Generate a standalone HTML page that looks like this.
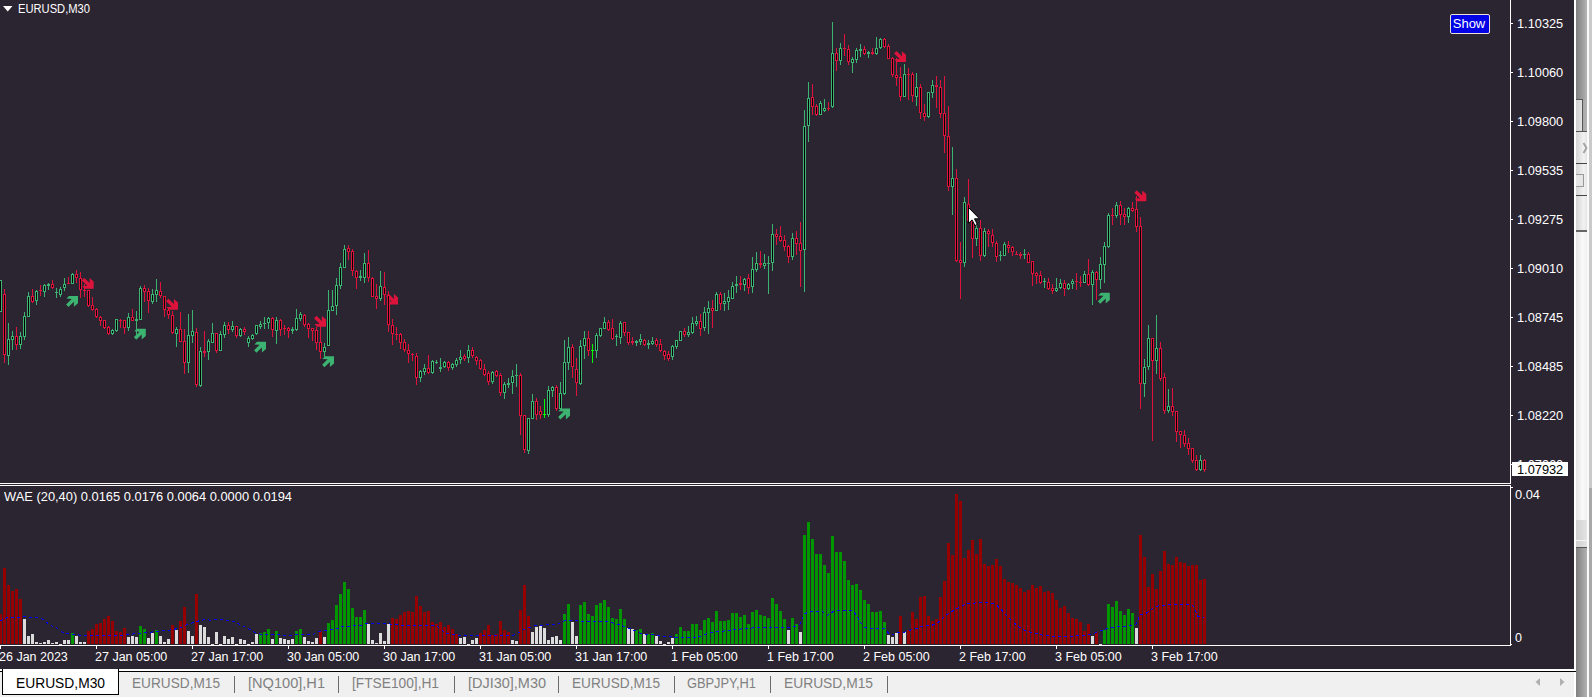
<!DOCTYPE html>
<html><head><meta charset="utf-8"><title>EURUSD,M30</title>
<style>
html,body{margin:0;padding:0;background:#f0f0f0;overflow:hidden}
body{width:1592px;height:697px;position:relative;font-family:"Liberation Sans",sans-serif}
#chart{position:absolute;left:0;top:0;width:1574px;height:669px;background:#2b2431}
svg{position:absolute;left:0;top:0}
.t{position:absolute;white-space:nowrap;color:#fff;font-size:12.5px;line-height:14px}
.tab{position:absolute;white-space:nowrap;color:#808080;font-size:14.5px;line-height:18px;top:675px}
</style></head><body>
<div id="chart"></div>

<svg width="1592" height="697" viewBox="0 0 1592 697" shape-rendering="crispEdges">
<g fill="#fff">
<rect x="0" y="483" width="1511" height="1"/>
<rect x="0" y="485" width="1511" height="1"/>
<rect x="1510" y="0" width="1" height="484"/>
<rect x="1510" y="485" width="1" height="161"/>
<rect x="0" y="645" width="1511" height="1"/>
<rect x="1511" y="23" width="2" height="1"/>
<rect x="1511" y="72" width="2" height="1"/>
<rect x="1511" y="121" width="2" height="1"/>
<rect x="1511" y="170" width="2" height="1"/>
<rect x="1511" y="219" width="2" height="1"/>
<rect x="1511" y="268" width="2" height="1"/>
<rect x="1511" y="317" width="2" height="1"/>
<rect x="1511" y="366" width="2" height="1"/>
<rect x="1511" y="415" width="2" height="1"/>
<rect x="1511" y="464" width="2" height="1"/>
<rect x="1511" y="487" width="2" height="1"/>
<rect x="1511" y="644" width="1" height="1"/>
<rect x="0" y="646" width="1" height="3"/>
<rect x="96" y="646" width="1" height="3"/>
<rect x="192" y="646" width="1" height="3"/>
<rect x="288" y="646" width="1" height="3"/>
<rect x="384" y="646" width="1" height="3"/>
<rect x="480" y="646" width="1" height="3"/>
<rect x="576" y="646" width="1" height="3"/>
<rect x="672" y="646" width="1" height="3"/>
<rect x="768" y="646" width="1" height="3"/>
<rect x="864" y="646" width="1" height="3"/>
<rect x="960" y="646" width="1" height="3"/>
<rect x="1056" y="646" width="1" height="3"/>
<rect x="1152" y="646" width="1" height="3"/>
</g>
<path shape-rendering="auto" fill="#3cb371" transform="translate(78 296)" d="M0 0L-9 0L-11.6 2.6L-6.3 3L-11.9 8.4L-9.6 11L-4.1 5.7L-4.1 10.8L0 7.2Z"/>
<path shape-rendering="auto" fill="#dc143c" transform="translate(93.7 288.8) scale(1 -1)" d="M0 0L-9 0L-11.6 2.6L-6.3 3L-11.9 8.4L-9.6 11L-4.1 5.7L-4.1 10.8L0 7.2Z"/>
<path shape-rendering="auto" fill="#3cb371" transform="translate(145.8 328.7)" d="M0 0L-9 0L-11.6 2.6L-6.3 3L-11.9 8.4L-9.6 11L-4.1 5.7L-4.1 10.8L0 7.2Z"/>
<path shape-rendering="auto" fill="#dc143c" transform="translate(178 309.7) scale(1 -1)" d="M0 0L-9 0L-11.6 2.6L-6.3 3L-11.9 8.4L-9.6 11L-4.1 5.7L-4.1 10.8L0 7.2Z"/>
<path shape-rendering="auto" fill="#3cb371" transform="translate(266 341.8)" d="M0 0L-9 0L-11.6 2.6L-6.3 3L-11.9 8.4L-9.6 11L-4.1 5.7L-4.1 10.8L0 7.2Z"/>
<path shape-rendering="auto" fill="#dc143c" transform="translate(326 326.8) scale(1 -1)" d="M0 0L-9 0L-11.6 2.6L-6.3 3L-11.9 8.4L-9.6 11L-4.1 5.7L-4.1 10.8L0 7.2Z"/>
<path shape-rendering="auto" fill="#3cb371" transform="translate(334 356.3)" d="M0 0L-9 0L-11.6 2.6L-6.3 3L-11.9 8.4L-9.6 11L-4.1 5.7L-4.1 10.8L0 7.2Z"/>
<path shape-rendering="auto" fill="#dc143c" transform="translate(398 304.6) scale(1 -1)" d="M0 0L-9 0L-11.6 2.6L-6.3 3L-11.9 8.4L-9.6 11L-4.1 5.7L-4.1 10.8L0 7.2Z"/>
<path shape-rendering="auto" fill="#3cb371" transform="translate(570 408.6)" d="M0 0L-9 0L-11.6 2.6L-6.3 3L-11.9 8.4L-9.6 11L-4.1 5.7L-4.1 10.8L0 7.2Z"/>
<path shape-rendering="auto" fill="#dc143c" transform="translate(906 62) scale(1 -1)" d="M0 0L-9 0L-11.6 2.6L-6.3 3L-11.9 8.4L-9.6 11L-4.1 5.7L-4.1 10.8L0 7.2Z"/>
<path shape-rendering="auto" fill="#3cb371" transform="translate(1109.8 292.8)" d="M0 0L-9 0L-11.6 2.6L-6.3 3L-11.9 8.4L-9.6 11L-4.1 5.7L-4.1 10.8L0 7.2Z"/>
<path shape-rendering="auto" fill="#dc143c" transform="translate(1146.3 201.2) scale(1 -1)" d="M0 0L-9 0L-11.6 2.6L-6.3 3L-11.9 8.4L-9.6 11L-4.1 5.7L-4.1 10.8L0 7.2Z"/>
<path fill="#3cb371" d="M0 280h1v32h-1zM-1 280h3v32h-3zM8 323h1v42h-1zM7 339h3v17h-3zM12 331h1v19h-1zM11 336h3v4h-3zM20 332h1v17h-1zM19 336h3v9h-3zM24 312h1v28h-1zM23 316h3v21h-3zM28 292h1v25h-1zM27 296h3v21h-3zM36 290h1v15h-1zM35 291h3v10h-3zM44 284h1v13h-1zM43 285h3v7h-3zM48 283h1v7h-1zM47 284h3v2h-3zM56 288h1v10h-1zM55 292h3v1h-3zM60 287h1v10h-1zM59 289h3v6h-3zM64 278h1v13h-1zM63 284h3v4h-3zM72 273h1v11h-1zM71 274h3v10h-3zM112 329h1v6h-1zM111 330h3v4h-3zM116 319h1v13h-1zM115 319h3v12h-3zM128 313h1v18h-1zM127 317h3v11h-3zM136 311h1v24h-1zM135 319h3v2h-3zM140 286h1v34h-1zM139 288h3v32h-3zM152 289h1v15h-1zM151 294h3v8h-3zM156 279h1v23h-1zM155 290h3v5h-3zM176 327h1v20h-1zM175 329h3v5h-3zM188 314h1v59h-1zM187 335h3v28h-3zM192 310h1v33h-1zM191 331h3v5h-3zM200 347h1v40h-1zM199 351h3v35h-3zM208 339h1v21h-1zM207 341h3v11h-3zM212 323h1v20h-1zM211 333h3v10h-3zM220 331h1v20h-1zM219 334h3v17h-3zM224 322h1v16h-1zM223 325h3v10h-3zM232 321h1v11h-1zM231 326h3v4h-3zM240 328h1v9h-1zM239 329h3v7h-3zM248 336h1v11h-1zM247 338h3v5h-3zM252 334h1v6h-1zM251 335h3v4h-3zM256 325h1v10h-1zM255 325h3v9h-3zM260 321h1v8h-1zM259 324h3v3h-3zM264 317h1v12h-1zM263 323h3v1h-3zM268 317h1v12h-1zM267 318h3v5h-3zM276 317h1v27h-1zM275 320h3v11h-3zM292 327h1v7h-1zM291 329h3v2h-3zM296 309h1v22h-1zM295 318h3v12h-3zM300 312h1v9h-1zM299 314h3v5h-3zM324 343h1v14h-1zM323 347h3v5h-3zM328 290h1v56h-1zM327 310h3v36h-3zM332 290h1v21h-1zM331 306h3v5h-3zM336 278h1v37h-1zM335 285h3v21h-3zM340 263h1v26h-1zM339 267h3v19h-3zM344 245h1v23h-1zM343 249h3v19h-3zM360 270h1v11h-1zM359 276h3v2h-3zM364 253h1v30h-1zM363 263h3v15h-3zM380 271h1v30h-1zM379 286h3v13h-3zM420 370h1v12h-1zM419 371h3v7h-3zM424 364h1v11h-1zM423 368h3v4h-3zM432 360h1v14h-1zM431 361h3v12h-3zM436 360h1v4h-1zM435 362h3v1h-3zM440 358h1v14h-1zM439 367h3v2h-3zM444 361h1v7h-1zM443 362h3v5h-3zM452 363h1v7h-1zM451 364h3v4h-3zM456 358h1v9h-1zM455 360h3v5h-3zM460 350h1v14h-1zM459 357h3v3h-3zM468 345h1v18h-1zM467 350h3v8h-3zM492 371h1v13h-1zM491 372h3v10h-3zM504 382h1v17h-1zM503 384h3v9h-3zM508 378h1v10h-1zM507 383h3v2h-3zM512 370h1v24h-1zM511 376h3v7h-3zM516 364h1v23h-1zM515 375h3v1h-3zM528 418h1v36h-1zM527 418h3v33h-3zM532 394h1v25h-1zM531 401h3v18h-3zM548 386h1v31h-1zM547 390h3v25h-3zM552 386h1v11h-1zM551 387h3v4h-3zM560 382h1v27h-1zM559 393h3v16h-3zM564 340h1v55h-1zM563 362h3v32h-3zM568 337h1v33h-1zM567 347h3v16h-3zM580 340h1v45h-1zM579 346h3v38h-3zM584 331h1v28h-1zM583 338h3v8h-3zM596 333h1v25h-1zM595 335h3v16h-3zM600 328h1v9h-1zM599 328h3v8h-3zM604 317h1v12h-1zM603 322h3v7h-3zM616 334h1v12h-1zM615 336h3v1h-3zM620 321h1v23h-1zM619 323h3v15h-3zM636 340h1v6h-1zM635 341h3v2h-3zM640 334h1v11h-1zM639 339h3v3h-3zM648 340h1v9h-1zM647 343h3v2h-3zM652 337h1v8h-1zM651 341h3v3h-3zM672 345h1v15h-1zM671 346h3v11h-3zM676 340h1v9h-1zM675 340h3v7h-3zM680 331h1v10h-1zM679 331h3v10h-3zM688 326h1v11h-1zM687 332h3v3h-3zM692 317h1v17h-1zM691 323h3v10h-3zM696 316h1v10h-1zM695 321h3v3h-3zM704 307h1v24h-1zM703 312h3v16h-3zM708 301h1v33h-1zM707 308h3v5h-3zM716 292h1v19h-1zM715 294h3v17h-3zM724 293h1v18h-1zM723 301h3v3h-3zM728 290h1v20h-1zM727 297h3v5h-3zM732 282h1v17h-1zM731 286h3v13h-3zM736 276h1v17h-1zM735 284h3v2h-3zM744 278h1v13h-1zM743 279h3v6h-3zM752 257h1v36h-1zM751 269h3v18h-3zM756 252h1v20h-1zM755 263h3v7h-3zM764 254h1v15h-1zM763 263h3v3h-3zM768 256h1v38h-1zM767 263h3v1h-3zM772 224h1v47h-1zM771 234h3v29h-3zM792 233h1v27h-1zM791 238h3v19h-3zM804 110h1v182h-1zM803 126h3v124h-3zM808 82h1v60h-1zM807 98h3v28h-3zM820 101h1v14h-1zM819 103h3v12h-3zM824 99h1v13h-1zM823 108h3v3h-3zM832 22h1v86h-1zM831 53h3v54h-3zM840 43h1v22h-1zM839 48h3v13h-3zM852 57h1v16h-1zM851 59h3v4h-3zM856 48h1v15h-1zM855 50h3v10h-3zM860 44h1v13h-1zM859 49h3v2h-3zM868 51h1v7h-1zM867 52h3v2h-3zM876 37h1v18h-1zM875 48h3v6h-3zM880 38h1v11h-1zM879 39h3v9h-3zM904 64h1v33h-1zM903 74h3v23h-3zM916 73h1v33h-1zM915 87h3v10h-3zM928 92h1v26h-1zM927 92h3v25h-3zM932 80h1v18h-1zM931 85h3v8h-3zM952 147h1v68h-1zM951 178h3v9h-3zM964 197h1v70h-1zM963 202h3v61h-3zM976 225h1v21h-1zM975 228h3v11h-3zM984 228h1v29h-1zM983 231h3v25h-3zM1000 251h1v10h-1zM999 255h3v1h-3zM1004 242h1v14h-1zM1003 244h3v12h-3zM1024 249h1v10h-1zM1023 254h3v1h-3zM1044 278h1v10h-1zM1043 281h3v1h-3zM1056 278h1v14h-1zM1055 288h3v3h-3zM1060 279h1v10h-1zM1059 283h3v5h-3zM1068 283h1v7h-1zM1067 284h3v5h-3zM1072 279h1v10h-1zM1071 281h3v3h-3zM1084 271h1v12h-1zM1083 274h3v9h-3zM1092 270h1v35h-1zM1091 272h3v13h-3zM1100 257h1v32h-1zM1099 264h3v16h-3zM1104 242h1v41h-1zM1103 246h3v19h-3zM1108 213h1v35h-1zM1107 215h3v32h-3zM1116 202h1v16h-1zM1115 205h3v11h-3zM1128 207h1v16h-1zM1127 208h3v9h-3zM1144 359h1v38h-1zM1143 367h3v17h-3zM1148 325h1v45h-1zM1147 338h3v29h-3zM1156 315h1v59h-1zM1155 348h3v13h-3zM1168 389h1v24h-1zM1167 406h3v5h-3zM1200 455h1v16h-1zM1199 460h3v10h-3z"/>
<path fill="#dc143c" d="M4 289h1v74h-1zM3 294h3v61h-3zM16 327h1v23h-1zM15 336h3v9h-3zM32 289h1v14h-1zM31 296h3v6h-3zM40 285h1v11h-1zM39 290h3v1h-3zM52 280h1v9h-1zM51 284h3v4h-3zM68 277h1v7h-1zM67 283h3v1h-3zM76 270h1v13h-1zM75 274h3v4h-3zM80 272h1v26h-1zM79 278h3v12h-3zM84 284h1v13h-1zM83 290h3v1h-3zM88 290h1v17h-1zM87 290h3v16h-3zM92 297h1v14h-1zM91 305h3v5h-3zM96 308h1v10h-1zM95 309h3v8h-3zM100 316h1v10h-1zM99 317h3v4h-3zM104 320h1v9h-1zM103 320h3v8h-3zM108 326h1v9h-1zM107 327h3v7h-3zM120 319h1v9h-1zM119 320h3v1h-3zM124 320h1v14h-1zM123 320h3v8h-3zM132 309h1v12h-1zM131 317h3v4h-3zM144 285h1v17h-1zM143 288h3v4h-3zM148 288h1v25h-1zM147 291h3v10h-3zM160 282h1v16h-1zM159 291h3v5h-3zM164 296h1v21h-1zM163 296h3v14h-3zM168 307h1v12h-1zM167 310h3v5h-3zM172 311h1v23h-1zM171 315h3v18h-3zM180 312h1v30h-1zM179 329h3v13h-3zM184 329h1v45h-1zM183 341h3v22h-3zM196 328h1v59h-1zM195 332h3v53h-3zM204 331h1v26h-1zM203 351h3v2h-3zM216 333h1v20h-1zM215 333h3v18h-3zM228 322h1v12h-1zM227 325h3v5h-3zM236 326h1v12h-1zM235 326h3v10h-3zM244 327h1v8h-1zM243 329h3v3h-3zM272 317h1v20h-1zM271 318h3v12h-3zM280 319h1v17h-1zM279 320h3v10h-3zM284 325h1v10h-1zM283 328h3v1h-3zM288 327h1v11h-1zM287 328h3v3h-3zM304 314h1v13h-1zM303 315h3v10h-3zM308 323h1v15h-1zM307 324h3v5h-3zM312 328h1v13h-1zM311 328h3v3h-3zM316 327h1v23h-1zM315 330h3v13h-3zM320 326h1v33h-1zM319 342h3v10h-3zM348 245h1v15h-1zM347 248h3v4h-3zM352 249h1v27h-1zM351 251h3v20h-3zM356 270h1v19h-1zM355 271h3v7h-3zM368 250h1v32h-1zM367 263h3v15h-3zM372 277h1v20h-1zM371 278h3v19h-3zM376 284h1v25h-1zM375 296h3v3h-3zM384 272h1v33h-1zM383 287h3v8h-3zM388 291h1v41h-1zM387 295h3v30h-3zM392 319h1v26h-1zM391 325h3v9h-3zM396 327h1v13h-1zM395 334h3v1h-3zM400 333h1v16h-1zM399 334h3v9h-3zM404 339h1v13h-1zM403 342h3v8h-3zM408 344h1v19h-1zM407 350h3v4h-3zM412 353h1v8h-1zM411 354h3v1h-3zM416 353h1v32h-1zM415 356h3v22h-3zM428 355h1v19h-1zM427 368h3v5h-3zM448 361h1v10h-1zM447 362h3v6h-3zM464 354h1v7h-1zM463 356h3v3h-3zM472 347h1v11h-1zM471 350h3v6h-3zM476 356h1v9h-1zM475 357h3v4h-3zM480 359h1v11h-1zM479 360h3v9h-3zM484 364h1v12h-1zM483 369h3v6h-3zM488 371h1v14h-1zM487 373h3v9h-3zM496 370h1v7h-1zM495 371h3v5h-3zM500 373h1v23h-1zM499 375h3v18h-3zM520 373h1v62h-1zM519 375h3v41h-3zM524 415h1v38h-1zM523 415h3v35h-3zM536 398h1v22h-1zM535 401h3v14h-3zM540 406h1v13h-1zM539 411h3v4h-3zM556 385h1v26h-1zM555 387h3v22h-3zM572 344h1v34h-1zM571 347h3v20h-3zM576 358h1v38h-1zM575 369h3v14h-3zM588 331h1v25h-1zM587 338h3v13h-3zM608 320h1v11h-1zM607 322h3v8h-3zM612 319h1v21h-1zM611 328h3v11h-3zM624 322h1v14h-1zM623 322h3v11h-3zM628 332h1v13h-1zM627 332h3v11h-3zM632 337h1v8h-1zM631 341h3v2h-3zM644 339h1v7h-1zM643 340h3v5h-3zM656 338h1v9h-1zM655 340h3v5h-3zM660 339h1v13h-1zM659 344h3v7h-3zM664 350h1v10h-1zM663 351h3v5h-3zM668 351h1v10h-1zM667 354h3v5h-3zM684 328h1v9h-1zM683 331h3v4h-3zM700 314h1v22h-1zM699 321h3v8h-3zM712 300h1v28h-1zM711 308h3v3h-3zM720 292h1v18h-1zM719 294h3v10h-3zM740 276h1v14h-1zM739 283h3v2h-3zM748 274h1v20h-1zM747 278h3v10h-3zM760 251h1v17h-1zM759 263h3v2h-3zM776 229h1v16h-1zM775 234h3v3h-3zM780 226h1v16h-1zM779 236h3v5h-3zM784 235h1v16h-1zM783 240h3v7h-3zM788 245h1v18h-1zM787 246h3v11h-3zM796 231h1v24h-1zM795 238h3v6h-3zM800 222h1v65h-1zM799 243h3v8h-3zM812 84h1v31h-1zM811 97h3v10h-3zM816 104h1v12h-1zM815 106h3v9h-3zM828 102h1v9h-1zM827 108h3v1h-3zM836 48h1v23h-1zM835 53h3v8h-3zM844 34h1v22h-1zM843 48h3v1h-3zM848 45h1v20h-1zM847 49h3v13h-3zM864 46h1v9h-1zM863 49h3v5h-3zM872 48h1v7h-1zM871 52h3v2h-3zM884 38h1v10h-1zM883 39h3v8h-3zM888 44h1v15h-1zM887 46h3v13h-3zM892 57h1v20h-1zM891 58h3v17h-3zM896 58h1v28h-1zM895 75h3v3h-3zM900 67h1v34h-1zM899 77h3v20h-3zM908 68h1v32h-1zM907 74h3v1h-3zM912 72h1v30h-1zM911 74h3v22h-3zM920 84h1v35h-1zM919 87h3v26h-3zM924 104h1v17h-1zM923 113h3v4h-3zM936 76h1v32h-1zM935 85h3v2h-3zM940 80h1v38h-1zM939 87h3v27h-3zM944 76h1v77h-1zM943 113h3v23h-3zM948 106h1v85h-1zM947 136h3v51h-3zM956 169h1v93h-1zM955 178h3v83h-3zM960 242h1v57h-1zM959 260h3v3h-3zM968 179h1v42h-1zM967 204h3v17h-3zM972 219h1v39h-1zM971 221h3v18h-3zM980 220h1v41h-1zM979 228h3v28h-3zM988 229h1v18h-1zM987 231h3v3h-3zM992 229h1v18h-1zM991 235h3v8h-3zM996 241h1v21h-1zM995 243h3v14h-3zM1008 241h1v12h-1zM1007 245h3v3h-3zM1012 246h1v10h-1zM1011 247h3v5h-3zM1016 251h1v4h-1zM1015 254h3v1h-3zM1020 252h1v7h-1zM1019 254h3v2h-3zM1028 252h1v11h-1zM1027 254h3v9h-3zM1032 261h1v25h-1zM1031 261h3v13h-3zM1036 272h1v12h-1zM1035 273h3v3h-3zM1040 271h1v13h-1zM1039 275h3v8h-3zM1048 278h1v12h-1zM1047 282h3v7h-3zM1052 284h1v10h-1zM1051 288h3v3h-3zM1064 280h1v16h-1zM1063 283h3v6h-3zM1076 273h1v17h-1zM1075 281h3v1h-3zM1080 276h1v11h-1zM1079 282h3v1h-3zM1088 259h1v27h-1zM1087 274h3v11h-3zM1096 271h1v29h-1zM1095 272h3v8h-3zM1112 208h1v17h-1zM1111 215h3v1h-3zM1120 201h1v24h-1zM1119 205h3v10h-3zM1124 208h1v17h-1zM1123 214h3v3h-3zM1132 202h1v10h-1zM1131 208h3v3h-3zM1136 196h1v36h-1zM1135 209h3v18h-3zM1140 217h1v192h-1zM1139 226h3v158h-3zM1152 338h1v103h-1zM1151 338h3v23h-3zM1160 342h1v39h-1zM1159 348h3v31h-3zM1164 373h1v41h-1zM1163 377h3v34h-3zM1172 388h1v28h-1zM1171 406h3v6h-3zM1176 411h1v31h-1zM1175 411h3v21h-3zM1180 431h1v17h-1zM1179 431h3v4h-3zM1184 430h1v17h-1zM1183 435h3v9h-3zM1188 438h1v17h-1zM1187 443h3v6h-3zM1192 448h1v15h-1zM1191 448h3v13h-3zM1196 455h1v16h-1zM1195 460h3v10h-3zM1204 459h1v13h-1zM1203 460h3v10h-3z"/>
<path fill="#00ff00" d="M544 399h1v19h-1zM543 414h3v1h-3zM592 344h1v19h-1zM591 350h3v1h-3z"/>
<path fill="#000" d="M0 281h1v30h-1zM8 340h1v15h-1zM12 337h1v2h-1zM20 337h1v7h-1zM24 317h1v19h-1zM28 297h1v19h-1zM36 292h1v8h-1zM44 286h1v5h-1zM60 290h1v4h-1zM64 285h1v2h-1zM72 275h1v8h-1zM112 331h1v2h-1zM116 320h1v10h-1zM128 318h1v9h-1zM140 289h1v30h-1zM152 295h1v6h-1zM156 291h1v3h-1zM176 330h1v3h-1zM188 336h1v26h-1zM192 332h1v3h-1zM200 352h1v33h-1zM208 342h1v9h-1zM212 334h1v8h-1zM220 335h1v15h-1zM224 326h1v8h-1zM232 327h1v2h-1zM240 330h1v5h-1zM248 339h1v3h-1zM252 336h1v2h-1zM256 326h1v7h-1zM260 325h1v1h-1zM268 319h1v3h-1zM276 321h1v9h-1zM296 319h1v10h-1zM300 315h1v3h-1zM324 348h1v3h-1zM328 311h1v34h-1zM332 307h1v3h-1zM336 286h1v19h-1zM340 268h1v17h-1zM344 250h1v17h-1zM364 264h1v13h-1zM380 287h1v11h-1zM420 372h1v5h-1zM424 369h1v2h-1zM432 362h1v10h-1zM444 363h1v3h-1zM452 365h1v2h-1zM456 361h1v3h-1zM460 358h1v1h-1zM468 351h1v6h-1zM492 373h1v8h-1zM504 385h1v7h-1zM512 377h1v5h-1zM528 419h1v31h-1zM532 402h1v16h-1zM548 391h1v23h-1zM552 388h1v2h-1zM560 394h1v14h-1zM564 363h1v30h-1zM568 348h1v14h-1zM580 347h1v36h-1zM584 339h1v6h-1zM596 336h1v14h-1zM600 329h1v6h-1zM604 323h1v5h-1zM620 324h1v13h-1zM640 340h1v1h-1zM652 342h1v1h-1zM672 347h1v9h-1zM676 341h1v5h-1zM680 332h1v8h-1zM688 333h1v1h-1zM692 324h1v8h-1zM696 322h1v1h-1zM704 313h1v14h-1zM708 309h1v3h-1zM716 295h1v15h-1zM724 302h1v1h-1zM728 298h1v3h-1zM732 287h1v11h-1zM744 280h1v4h-1zM752 270h1v16h-1zM756 264h1v5h-1zM764 264h1v1h-1zM772 235h1v27h-1zM792 239h1v17h-1zM804 127h1v122h-1zM808 99h1v26h-1zM820 104h1v10h-1zM824 109h1v1h-1zM832 54h1v52h-1zM840 49h1v11h-1zM852 60h1v2h-1zM856 51h1v8h-1zM876 49h1v4h-1zM880 40h1v7h-1zM904 75h1v21h-1zM916 88h1v8h-1zM928 93h1v23h-1zM932 86h1v6h-1zM952 179h1v7h-1zM964 203h1v59h-1zM976 229h1v9h-1zM984 232h1v23h-1zM1004 245h1v10h-1zM1056 289h1v1h-1zM1060 284h1v3h-1zM1068 285h1v3h-1zM1072 282h1v1h-1zM1084 275h1v7h-1zM1092 273h1v11h-1zM1100 265h1v14h-1zM1104 247h1v17h-1zM1108 216h1v30h-1zM1116 206h1v9h-1zM1128 209h1v7h-1zM1144 368h1v15h-1zM1148 339h1v27h-1zM1156 349h1v11h-1zM1168 407h1v3h-1zM1200 461h1v8h-1zM4 295h1v59h-1zM16 337h1v7h-1zM32 297h1v4h-1zM52 285h1v2h-1zM76 275h1v2h-1zM80 279h1v10h-1zM88 291h1v14h-1zM92 306h1v3h-1zM96 310h1v6h-1zM100 318h1v2h-1zM104 321h1v6h-1zM108 328h1v5h-1zM124 321h1v6h-1zM132 318h1v2h-1zM144 289h1v2h-1zM148 292h1v8h-1zM160 292h1v3h-1zM164 297h1v12h-1zM168 311h1v3h-1zM172 316h1v16h-1zM180 330h1v11h-1zM184 342h1v20h-1zM196 333h1v51h-1zM216 334h1v16h-1zM228 326h1v3h-1zM236 327h1v8h-1zM244 330h1v1h-1zM272 319h1v10h-1zM280 321h1v8h-1zM288 329h1v1h-1zM304 316h1v8h-1zM308 325h1v3h-1zM312 329h1v1h-1zM316 331h1v11h-1zM320 343h1v8h-1zM348 249h1v2h-1zM352 252h1v18h-1zM356 272h1v5h-1zM368 264h1v13h-1zM372 279h1v17h-1zM376 297h1v1h-1zM384 288h1v6h-1zM388 296h1v28h-1zM392 326h1v7h-1zM400 335h1v7h-1zM404 343h1v6h-1zM408 351h1v2h-1zM416 357h1v20h-1zM428 369h1v3h-1zM448 363h1v4h-1zM464 357h1v1h-1zM472 351h1v4h-1zM476 358h1v2h-1zM480 361h1v7h-1zM484 370h1v4h-1zM488 374h1v7h-1zM496 372h1v3h-1zM500 376h1v16h-1zM520 376h1v39h-1zM524 416h1v33h-1zM536 402h1v12h-1zM540 412h1v2h-1zM556 388h1v20h-1zM572 348h1v18h-1zM576 370h1v12h-1zM588 339h1v11h-1zM608 323h1v6h-1zM612 329h1v9h-1zM624 323h1v9h-1zM628 333h1v9h-1zM644 341h1v3h-1zM656 341h1v3h-1zM660 345h1v5h-1zM664 352h1v3h-1zM668 355h1v3h-1zM684 332h1v2h-1zM700 322h1v6h-1zM712 309h1v1h-1zM720 295h1v8h-1zM748 279h1v8h-1zM776 235h1v1h-1zM780 237h1v3h-1zM784 241h1v5h-1zM788 247h1v9h-1zM796 239h1v4h-1zM800 244h1v6h-1zM812 98h1v8h-1zM816 107h1v7h-1zM836 54h1v6h-1zM848 50h1v11h-1zM864 50h1v3h-1zM884 40h1v6h-1zM888 47h1v11h-1zM892 59h1v15h-1zM896 76h1v1h-1zM900 78h1v18h-1zM912 75h1v20h-1zM920 88h1v24h-1zM924 114h1v2h-1zM940 88h1v25h-1zM944 114h1v21h-1zM948 137h1v49h-1zM956 179h1v81h-1zM960 261h1v1h-1zM968 205h1v15h-1zM972 222h1v16h-1zM980 229h1v26h-1zM988 232h1v1h-1zM992 236h1v6h-1zM996 244h1v12h-1zM1008 246h1v1h-1zM1012 248h1v3h-1zM1028 255h1v7h-1zM1032 262h1v11h-1zM1036 274h1v1h-1zM1040 276h1v6h-1zM1048 283h1v5h-1zM1052 289h1v1h-1zM1064 284h1v4h-1zM1088 275h1v9h-1zM1096 273h1v6h-1zM1120 206h1v8h-1zM1124 215h1v1h-1zM1132 209h1v1h-1zM1136 210h1v16h-1zM1140 227h1v156h-1zM1152 339h1v21h-1zM1160 349h1v29h-1zM1164 378h1v32h-1zM1172 407h1v4h-1zM1176 412h1v19h-1zM1180 432h1v2h-1zM1184 436h1v7h-1zM1188 444h1v4h-1zM1192 449h1v11h-1zM1196 461h1v8h-1zM1204 461h1v8h-1z"/>
<path shape-rendering="auto" fill="#fff" stroke="#000" stroke-width="1" d="M968.5 207.5v15.8l3.6-3.4l2.9 5.6l2.3-1.1l-2.8-5.6h5z"/>
<path fill="#960000" d="M-1 614h3v30h-3zM3 568h3v76h-3zM7 585h3v59h-3zM11 591h3v53h-3zM15 589h3v55h-3zM19 599h3v45h-3zM87 631h3v13h-3zM91 629h3v15h-3zM95 624h3v20h-3zM99 623h3v21h-3zM103 619h3v25h-3zM107 616h3v28h-3zM111 621h3v23h-3zM115 631h3v13h-3zM119 632h3v12h-3zM123 628h3v16h-3zM171 625h3v19h-3zM179 621h3v23h-3zM183 607h3v37h-3zM195 594h3v50h-3zM319 631h3v13h-3zM391 618h3v26h-3zM395 619h3v25h-3zM399 615h3v29h-3zM403 612h3v32h-3zM407 611h3v33h-3zM411 612h3v32h-3zM415 596h3v48h-3zM419 606h3v38h-3zM423 612h3v32h-3zM427 611h3v33h-3zM431 622h3v22h-3zM435 624h3v20h-3zM439 622h3v22h-3zM443 627h3v17h-3zM447 625h3v19h-3zM451 629h3v15h-3zM455 634h3v10h-3zM479 633h3v11h-3zM483 630h3v14h-3zM487 625h3v19h-3zM491 635h3v9h-3zM495 634h3v10h-3zM499 621h3v23h-3zM503 630h3v14h-3zM507 632h3v12h-3zM519 610h3v34h-3zM523 585h3v59h-3zM527 616h3v28h-3zM899 616h3v28h-3zM907 630h3v14h-3zM911 612h3v32h-3zM915 619h3v25h-3zM919 597h3v47h-3zM923 596h3v48h-3zM927 616h3v28h-3zM931 621h3v23h-3zM935 619h3v25h-3zM939 597h3v47h-3zM943 581h3v63h-3zM947 543h3v101h-3zM951 555h3v89h-3zM955 494h3v150h-3zM959 501h3v143h-3zM963 558h3v86h-3zM967 550h3v94h-3zM971 540h3v104h-3zM975 554h3v90h-3zM979 539h3v105h-3zM983 564h3v80h-3zM987 566h3v78h-3zM991 565h3v79h-3zM995 559h3v85h-3zM999 566h3v78h-3zM1003 579h3v65h-3zM1007 582h3v62h-3zM1011 583h3v61h-3zM1015 585h3v59h-3zM1019 588h3v56h-3zM1023 592h3v52h-3zM1027 590h3v54h-3zM1031 585h3v59h-3zM1035 588h3v56h-3zM1039 586h3v58h-3zM1043 592h3v52h-3zM1047 591h3v53h-3zM1051 593h3v51h-3zM1055 600h3v44h-3zM1059 608h3v36h-3zM1063 606h3v38h-3zM1067 613h3v31h-3zM1071 618h3v26h-3zM1075 619h3v25h-3zM1079 622h3v22h-3zM1083 631h3v13h-3zM1087 624h3v20h-3zM1095 632h3v12h-3zM1139 535h3v109h-3zM1143 557h3v87h-3zM1147 587h3v57h-3zM1151 574h3v70h-3zM1155 589h3v55h-3zM1159 571h3v73h-3zM1163 551h3v93h-3zM1167 564h3v80h-3zM1171 565h3v79h-3zM1175 557h3v87h-3zM1179 562h3v82h-3zM1183 563h3v81h-3zM1187 566h3v78h-3zM1191 565h3v79h-3zM1195 565h3v79h-3zM1199 580h3v64h-3zM1203 579h3v65h-3z"/>
<path fill="#009600" d="M71 633h3v11h-3zM139 626h3v18h-3zM143 629h3v15h-3zM155 630h3v14h-3zM259 633h3v11h-3zM263 632h3v12h-3zM267 629h3v15h-3zM275 631h3v13h-3zM295 631h3v13h-3zM299 629h3v15h-3zM327 623h3v21h-3zM331 620h3v24h-3zM335 605h3v39h-3zM339 594h3v50h-3zM343 582h3v62h-3zM347 589h3v55h-3zM351 608h3v36h-3zM355 617h3v27h-3zM359 617h3v27h-3zM363 610h3v34h-3zM563 614h3v30h-3zM567 604h3v40h-3zM579 605h3v39h-3zM583 602h3v42h-3zM587 614h3v30h-3zM591 616h3v28h-3zM595 605h3v39h-3zM599 603h3v41h-3zM603 600h3v44h-3zM607 607h3v37h-3zM611 618h3v26h-3zM615 619h3v25h-3zM619 609h3v35h-3zM623 619h3v25h-3zM635 630h3v14h-3zM639 629h3v15h-3zM647 634h3v10h-3zM651 633h3v11h-3zM675 634h3v10h-3zM679 627h3v17h-3zM683 631h3v13h-3zM687 631h3v13h-3zM691 624h3v20h-3zM695 624h3v20h-3zM699 630h3v14h-3zM703 620h3v24h-3zM707 618h3v26h-3zM711 622h3v22h-3zM715 611h3v33h-3zM719 621h3v23h-3zM723 621h3v23h-3zM727 620h3v24h-3zM731 613h3v31h-3zM735 613h3v31h-3zM739 617h3v27h-3zM743 615h3v29h-3zM747 624h3v20h-3zM751 612h3v32h-3zM755 610h3v34h-3zM759 615h3v29h-3zM763 616h3v28h-3zM767 618h3v26h-3zM771 598h3v46h-3zM775 604h3v40h-3zM779 611h3v33h-3zM783 619h3v25h-3zM791 618h3v26h-3zM795 624h3v20h-3zM803 535h3v109h-3zM807 522h3v122h-3zM811 539h3v105h-3zM815 554h3v90h-3zM819 554h3v90h-3zM823 565h3v79h-3zM827 573h3v71h-3zM831 536h3v108h-3zM835 552h3v92h-3zM839 552h3v92h-3zM843 561h3v83h-3zM847 580h3v64h-3zM851 585h3v59h-3zM855 584h3v60h-3zM859 590h3v54h-3zM863 600h3v44h-3zM867 604h3v40h-3zM871 612h3v32h-3zM875 612h3v32h-3zM879 611h3v33h-3zM883 622h3v22h-3zM1103 630h3v14h-3zM1107 604h3v40h-3zM1111 607h3v37h-3zM1115 601h3v43h-3zM1119 611h3v33h-3zM1123 615h3v29h-3zM1127 609h3v35h-3zM1131 613h3v31h-3z"/>
<path fill="#dcdcdc" d="M23 619h3v25h-3zM27 636h3v8h-3zM31 634h3v10h-3zM35 642h3v2h-3zM39 643h3v1h-3zM43 642h3v2h-3zM47 640h3v4h-3zM51 643h3v1h-3zM55 642h3v2h-3zM59 644h3v1h-3zM63 640h3v4h-3zM67 640h3v4h-3zM75 636h3v8h-3zM79 642h3v2h-3zM83 642h3v2h-3zM127 637h3v7h-3zM131 636h3v8h-3zM135 637h3v7h-3zM147 638h3v6h-3zM151 633h3v11h-3zM159 636h3v8h-3zM163 642h3v2h-3zM167 639h3v5h-3zM175 630h3v14h-3zM187 631h3v13h-3zM191 636h3v8h-3zM199 625h3v19h-3zM203 627h3v17h-3zM207 637h3v7h-3zM211 644h3v1h-3zM215 632h3v12h-3zM219 644h3v1h-3zM223 636h3v8h-3zM227 639h3v5h-3zM231 637h3v7h-3zM235 644h3v1h-3zM239 639h3v5h-3zM243 640h3v4h-3zM247 644h3v1h-3zM251 642h3v2h-3zM255 634h3v10h-3zM271 639h3v5h-3zM279 638h3v6h-3zM283 639h3v5h-3zM287 640h3v4h-3zM291 639h3v5h-3zM303 637h3v7h-3zM307 641h3v3h-3zM311 642h3v2h-3zM315 638h3v6h-3zM323 637h3v7h-3zM367 624h3v20h-3zM371 640h3v4h-3zM375 643h3v1h-3zM379 633h3v11h-3zM383 641h3v3h-3zM387 624h3v20h-3zM459 638h3v6h-3zM463 637h3v7h-3zM467 644h3v1h-3zM471 640h3v4h-3zM475 638h3v6h-3zM511 640h3v4h-3zM515 641h3v3h-3zM531 632h3v12h-3zM535 627h3v17h-3zM539 626h3v18h-3zM543 628h3v16h-3zM547 640h3v4h-3zM551 637h3v7h-3zM555 636h3v8h-3zM559 640h3v4h-3zM571 622h3v22h-3zM575 636h3v8h-3zM627 628h3v16h-3zM631 629h3v15h-3zM643 634h3v10h-3zM655 636h3v8h-3zM659 641h3v3h-3zM663 644h3v1h-3zM667 642h3v2h-3zM671 638h3v6h-3zM787 630h3v14h-3zM799 632h3v12h-3zM887 635h3v9h-3zM891 637h3v7h-3zM895 633h3v11h-3zM903 632h3v12h-3zM1091 636h3v8h-3zM1099 644h3v1h-3zM1135 628h3v16h-3z"/>
<polyline fill="none" stroke="#0000ff" stroke-width="1" stroke-dasharray="3 3" shape-rendering="crispEdges" points="0,621 7,617.5 21,617.5 25,616.5 31,617.5 38,617.5 43,619.5 50,625 56,627.5 62,632 66,633.5 72,634.5 86,635.5 121,635.5 127,634.5 139,633.5 152,632 163,630.5 170,630 174,629.5 182,627 188,624 194,622.5 200,620.5 207,619.5 211,620.5 217,619.5 223,619.5 229,620.5 235,621.5 241,625 248,628.5 254,632 260,634 265,634.5 276,634.5 284,635.5 290,635.5 296,634.5 313,634.5 319,631.5 325,630.5 331,629.5 337,628.5 343,626.5 350,626.5 355,625.5 361,625.5 366,623.5 384,623.5 390,624 398,625 435,625.5 440,628 445,633 457,635 480,636 513,635.5 518,633 524,629.5 535,625.5 553,624.5 560,623 565,620.5 580,621 600,621.5 610,622 620,625 632,629.5 644,634.5 655,635 667,636.5 679,637.5 697,637.5 709,633 731,630 752,628 770,627.5 790,627.5 796,626 800,624 803,616 805,613.5 811,611.5 822,611.5 827.5,615.5 831,613 835,610.5 853,610.5 857,616.5 861,623 864.5,627 872,628.5 884,628.5 889.5,634 893,634.5 896,632.5 903,632.5 913,629.5 918,628 924,625.5 931,625.5 937,623.5 942,619 947,614.5 955,609.5 960,607 966,604 975,603 983,602.5 990,603 996,604.5 1001,609.5 1006,615 1013,622 1019,627 1025,630.5 1033,633 1042,635 1057,636.5 1069,636.5 1087,635 1092,634 1096,632.5 1100,631 1104,629.5 1110,628 1116,627 1131,625.5 1136,624 1138,621 1139,616 1140,614.5 1146,613.5 1150,610 1155,607 1160,605.5 1175,604.5 1190,604.5 1193,606 1196,612 1198,616.5 1204,618"/>
</svg>
<div class="t" style="left:1517px;top:17px;transform:scaleX(1.0226);transform-origin:0 0;">1.10325</div>
<div class="t" style="left:1517px;top:66px;transform:scaleX(1.0226);transform-origin:0 0;">1.10060</div>
<div class="t" style="left:1517px;top:115px;transform:scaleX(1.0226);transform-origin:0 0;">1.09800</div>
<div class="t" style="left:1517px;top:164px;transform:scaleX(1.0226);transform-origin:0 0;">1.09535</div>
<div class="t" style="left:1517px;top:213px;transform:scaleX(1.0226);transform-origin:0 0;">1.09275</div>
<div class="t" style="left:1517px;top:262px;transform:scaleX(1.0226);transform-origin:0 0;">1.09010</div>
<div class="t" style="left:1517px;top:311px;transform:scaleX(1.0226);transform-origin:0 0;">1.08745</div>
<div class="t" style="left:1517px;top:360px;transform:scaleX(1.0226);transform-origin:0 0;">1.08485</div>
<div class="t" style="left:1517px;top:409px;transform:scaleX(1.0226);transform-origin:0 0;">1.08220</div>
<div class="t" style="left:1517px;top:458px;transform:scaleX(1.0226);transform-origin:0 0;">1.07960</div>
<div style="position:absolute;left:1512px;top:462px;width:56px;height:14px;background:#fff"></div>
<div class="t" style="left:1517px;top:462.5px;color:#000;transform:scaleX(1.0226);transform-origin:0 0;">1.07932</div>
<div class="t" style="left:1515px;top:488px;transform:scaleX(1.0277);transform-origin:0 0;">0.04</div>
<div class="t" style="left:1515px;top:630.5px;">0</div>
<div class="t" style="left:18px;top:2px;transform:scaleX(0.8936);transform-origin:0 0;">EURUSD,M30</div>
<div class="t" style="left:4px;top:490px;transform:scaleX(1.0301);transform-origin:0 0;">WAE (20,40) 0.0165 0.0176 0.0064 0.0000 0.0194</div>
<div class="t" style="left:-1px;top:650px">26 Jan 2023</div>
<div class="t" style="left:95px;top:650px">27 Jan 05:00</div>
<div class="t" style="left:191px;top:650px">27 Jan 17:00</div>
<div class="t" style="left:287px;top:650px">30 Jan 05:00</div>
<div class="t" style="left:383px;top:650px">30 Jan 17:00</div>
<div class="t" style="left:479px;top:650px">31 Jan 05:00</div>
<div class="t" style="left:575px;top:650px">31 Jan 17:00</div>
<div class="t" style="left:671px;top:650px">1 Feb 05:00</div>
<div class="t" style="left:767px;top:650px">1 Feb 17:00</div>
<div class="t" style="left:863px;top:650px">2 Feb 05:00</div>
<div class="t" style="left:959px;top:650px">2 Feb 17:00</div>
<div class="t" style="left:1055px;top:650px">3 Feb 05:00</div>
<div class="t" style="left:1151px;top:650px">3 Feb 17:00</div>
<div class="t" style="left:1450px;top:14px;width:38px;height:18px;border:1px solid #e8e2d4;border-radius:2px;background:#0000e6;font-size:13px;line-height:18px;text-align:center;text-indent:-2px">Show</div>
<div style="position:absolute;left:1574px;top:0;width:2px;height:697px;background:#fff"></div>
<div style="position:absolute;left:1576px;top:0;width:11px;height:100px;background:linear-gradient(90deg,#7e7e7e,#b4b4b4)"></div>
<div style="position:absolute;left:1576px;top:99px;width:6px;height:32px;background:linear-gradient(90deg,#cfcfcf,#e2e2e2);border-top:1px solid #555;border-right:1px solid #555;box-sizing:content-box"></div>
<div style="position:absolute;left:1583px;top:100px;width:4px;height:31px;background:linear-gradient(90deg,#a8a8a8,#b4b4b4)"></div>
<div style="position:absolute;left:1576px;top:131px;width:11px;height:389px;background:linear-gradient(90deg,#d4d4d4,#f2f2f2 70%,#e4e4e4)"></div>
<div style="position:absolute;left:1576px;top:232px;width:11px;height:288px;background:linear-gradient(90deg,#e4e4e4,#fafafa 60%,#f0f0f0)"></div>
<div style="position:absolute;left:1576px;top:131px;width:11px;height:1px;background:#555"></div>
<div style="position:absolute;left:1576px;top:163px;width:11px;height:1px;background:#444"></div>
<div style="position:absolute;left:1576px;top:195px;width:11px;height:1px;background:#444"></div>
<div style="position:absolute;left:1576px;top:230px;width:11px;height:2px;background:#666"></div>
<div style="position:absolute;left:1576px;top:174px;width:7px;height:11px;border:1px solid #999;border-left:none;background:#e6e6e6"></div>
<div style="position:absolute;left:1576px;top:520px;width:11px;height:27px;background:linear-gradient(90deg,#d0d0d0,#e4e4e4)"></div>
<div style="position:absolute;left:1576px;top:540px;width:11px;height:1px;background:#f4f4f4"></div>
<div style="position:absolute;left:1576px;top:547px;width:11px;height:150px;background:linear-gradient(90deg,#808080,#b2b2b2)"></div>
<div style="position:absolute;left:1576px;top:547px;width:11px;height:1px;background:#555"></div>
<div style="position:absolute;left:1587px;top:0;width:2px;height:697px;background:#fafafa"></div>
<div style="position:absolute;left:1589px;top:0;width:3px;height:488px;background:#cacaca"></div>
<div style="position:absolute;left:1589px;top:488px;width:3px;height:209px;background:#a8a8a8"></div>
<svg width="1592" height="697" viewBox="0 0 1592 697"><path d="M1583.5 143 L1586.5 148 L1583.5 153" fill="none" stroke="#a0a0a0" stroke-width="1.8"/>
<path d="M3 6 L12.5 6 L7.75 11.5 Z" fill="#fff"/></svg>

<div style="position:absolute;left:0;top:669px;width:1574px;height:2px;background:#fff"></div>
<div style="position:absolute;left:0;top:671px;width:1576px;height:1px;background:#000"></div>
<div style="position:absolute;left:0;top:672px;width:1574px;height:25px;background:#f0f0f0"></div>
<div style="position:absolute;left:2px;top:669px;width:115px;height:25px;background:#fff;border:1px solid #000;border-top:none;border-bottom-width:1.5px"></div>
<div style="position:absolute;left:0;top:672px;width:2px;height:25px;background:#f0f0f0"></div>
<svg width="1592" height="697" viewBox="0 0 1592 697"><path d="M1540 678 L1540 686 L1535.5 682 Z" fill="#b0b0b0"/><path d="M1560 678 L1560 686 L1564.5 682 Z" fill="#b0b0b0"/></svg>

<div class="tab" style="left:16px;top:674px;font-size:14.5px;color:#000;transform:scaleX(0.9522);transform-origin:0 0;">EURUSD,M30</div>
<div class="tab" style="left:132px;top:674px;font-size:14.5px;color:#808080;transform:scaleX(0.9415);transform-origin:0 0;">EURUSD,M15</div>
<div class="tab" style="left:248px;top:674px;font-size:14.5px;color:#808080;transform:scaleX(1.0057);transform-origin:0 0;">[NQ100],H1</div>
<div class="tab" style="left:352px;top:674px;font-size:14.5px;color:#808080;transform:scaleX(0.9470);transform-origin:0 0;">[FTSE100],H1</div>
<div class="tab" style="left:468px;top:674px;font-size:14.5px;color:#808080;transform:scaleX(0.9979);transform-origin:0 0;">[DJI30],M30</div>
<div class="tab" style="left:572px;top:674px;font-size:14.5px;color:#808080;transform:scaleX(0.9415);transform-origin:0 0;">EURUSD,M15</div>
<div class="tab" style="left:687px;top:674px;font-size:14.5px;color:#808080;transform:scaleX(0.8856);transform-origin:0 0;">GBPJPY,H1</div>
<div class="tab" style="left:784px;top:674px;font-size:14.5px;color:#808080;transform:scaleX(0.9522);transform-origin:0 0;">EURUSD,M15</div>
<div style="position:absolute;left:234px;top:676px;width:1px;height:17px;background:#6a6a6a"></div>
<div style="position:absolute;left:338px;top:676px;width:1px;height:17px;background:#6a6a6a"></div>
<div style="position:absolute;left:454px;top:676px;width:1px;height:17px;background:#6a6a6a"></div>
<div style="position:absolute;left:558px;top:676px;width:1px;height:17px;background:#6a6a6a"></div>
<div style="position:absolute;left:674px;top:676px;width:1px;height:17px;background:#6a6a6a"></div>
<div style="position:absolute;left:770px;top:676px;width:1px;height:17px;background:#6a6a6a"></div>
<div style="position:absolute;left:887px;top:676px;width:1px;height:17px;background:#6a6a6a"></div>
</body></html>
